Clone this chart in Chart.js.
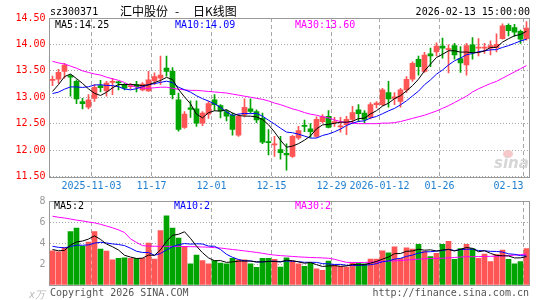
<!DOCTYPE html>
<html>
<head>
<meta charset="utf-8">
<script src="https://cdn.jsdelivr.net/npm/chart.js@4.4.1/dist/chart.umd.min.js"></script>
<style>
    body { margin: 0; background: #fff; }
    #wrap { position: relative; width: 545px; height: 300px; overflow: hidden; font-family: "DejaVu Sans Mono", monospace; font-size: 10px; }
    canvas { position: absolute; left: 0; top: 0; }
    .t { position: absolute; white-space: nowrap; line-height: 12px; }
    .cjk { font-family: "Noto Sans CJK SC"; font-size: 12px; line-height: 14px; top: 4px; }
    .eye { position: absolute; left: 503px; top: 150px; width: 10px; height: 8px; border-radius: 50%; background: #f6c8c8; }
</style>
</head>
<body>
<div id="wrap">
    <canvas id="klineChart" width="545" height="300"></canvas>
    <canvas id="volumeChart" width="545" height="300"></canvas>

    <div class="t" style="left:50px;top:6px;">sz300371</div>
    <div class="t cjk" style="left:120px;">汇中股份</div>
    <div class="t cjk" style="left:175px;">-</div>
    <div class="t cjk" style="left:193px;">日K线图</div>
    <div class="t" style="right:15px;top:6px;">2026-02-13 15:00:00</div>

    <div class="t" style="left:55px;top:19px;color:#000;">MA5:14.25</div>
    <div class="t" style="left:175px;top:19px;color:#0000ff;">MA10:14.09</div>
    <div class="t" style="left:295px;top:19px;color:#ff00ff;">MA30:13.60</div>

    <div class="t" style="left:54px;top:200px;color:#000;">MA5:2</div>
    <div class="t" style="left:174px;top:200px;color:#0000ff;">MA10:2</div>
    <div class="t" style="left:295px;top:200px;color:#ff00ff;">MA30:2</div>

    <div class="eye"></div>
    <div class="t" style="left:494px;top:155px;font-family:'DejaVu Sans';font-size:15px;line-height:17px;font-style:italic;font-weight:bold;color:#d6d6d6;">sina</div>
    <div class="t" style="left:29px;top:289px;color:#bbb;font-style:italic;">x万</div>
    <div class="t" style="left:50px;top:287px;color:#555;">Copyright 2026 SINA.COM</div>
    <div class="t" style="right:16px;top:287px;color:#555;">http://finance.sina.com.cn</div>
</div>

<script>
// trading days shown (2025-10-23 .. 2026-02-13)
const dates = [
    "10-23", "10-24", "10-27", "10-28", "10-29", "10-30", "10-31",
    "11-03", "11-04", "11-05", "11-06", "11-07", "11-10", "11-11", "11-12", "11-13", "11-14",
    "11-17", "11-18", "11-19", "11-20", "11-21", "11-24", "11-25", "11-26", "11-27", "11-28",
    "12-01", "12-02", "12-03", "12-04", "12-05", "12-08", "12-09", "12-10", "12-11", "12-12",
    "12-15", "12-16", "12-17", "12-18", "12-19", "12-22", "12-23", "12-24", "12-25", "12-26",
    "12-29", "12-30", "12-31", "01-05", "01-06", "01-07", "01-08", "01-09",
    "01-12", "01-13", "01-14", "01-15", "01-16", "01-19", "01-20", "01-21", "01-22", "01-23",
    "01-26", "01-27", "01-28", "01-29", "01-30", "02-02", "02-03", "02-04", "02-05", "02-06",
    "02-09", "02-10", "02-11", "02-12", "02-13"
];

const tickDates = ["11-03", "11-17", "12-01", "12-15", "12-29", "01-12", "01-26", "02-13"];
const tickLabels = ["2025-11-03", "11-17", "12-01", "12-15", "12-29", "2026-01-12", "01-26", "02-13"];

const opens = [
    13.32, 13.34, 13.49, 13.41, 13.30, 12.92, 12.81, 12.98, 13.22, 13.12,
    13.28, 13.29, 13.24, 13.20, 13.24, 13.14, 13.12, 13.31, 13.36, 13.55,
    13.49, 12.95, 12.43, 12.80, 12.78, 12.51, 12.68, 12.95, 12.84, 12.73,
    12.66, 12.28, 12.67, 12.78, 12.73, 12.60, 12.16, 12.10, 12.01, 11.94,
    11.88, 12.23, 12.47, 12.40, 12.26, 12.54, 12.64, 12.52, 12.44, 12.48,
    12.58, 12.76, 12.70, 12.62, 12.86, 12.86, 13.09, 12.98, 12.92, 13.14,
    13.34, 13.72, 13.49, 13.82, 13.86, 13.97, 13.90, 13.98, 13.73, 13.61,
    13.99, 13.93, 13.93, 13.93, 13.94, 14.11, 14.36, 14.32, 14.25, 14.11
];
const highs = [
    13.40, 13.53, 13.64, 13.43, 13.33, 12.98, 13.05, 13.24, 13.32, 13.30,
    13.36, 13.30, 13.26, 13.26, 13.30, 13.28, 13.49, 13.46, 13.78, 13.78,
    13.56, 13.08, 12.73, 12.93, 12.93, 12.73, 12.92, 13.05, 12.86, 12.76,
    12.70, 12.68, 12.97, 12.97, 12.76, 12.70, 12.39, 12.26, 12.26, 12.12,
    12.28, 12.45, 12.57, 12.50, 12.63, 12.67, 12.75, 12.62, 12.62, 12.64,
    12.83, 12.86, 12.75, 12.90, 12.92, 13.17, 13.30, 13.09, 13.17, 13.39,
    13.67, 13.78, 13.85, 13.93, 14.03, 14.12, 13.99, 14.02, 13.96, 14.02,
    14.13, 14.11, 14.02, 14.07, 14.20, 14.39, 14.39, 14.38, 14.27, 14.43
];
const lows = [
    13.22, 13.26, 13.36, 13.02, 12.88, 12.78, 12.78, 12.92, 13.10, 13.02,
    13.05, 13.14, 13.14, 13.16, 13.10, 13.12, 13.11, 13.24, 13.24, 13.40,
    12.97, 12.36, 12.41, 12.62, 12.45, 12.46, 12.60, 12.75, 12.61, 12.55,
    12.28, 12.26, 12.63, 12.70, 12.52, 12.12, 11.91, 11.88, 11.83, 11.62,
    11.86, 12.20, 12.35, 12.24, 12.24, 12.51, 12.42, 12.45, 12.34, 12.29,
    12.50, 12.54, 12.51, 12.59, 12.80, 12.84, 12.81, 12.86, 12.81, 13.09,
    13.30, 13.42, 13.47, 13.58, 13.78, 13.74, 13.46, 13.72, 13.47, 13.42,
    13.72, 13.78, 13.83, 13.80, 13.86, 14.10, 14.16, 14.15, 14.02, 14.08
];
const closes = [
    13.34, 13.47, 13.61, 13.38, 12.97, 12.88, 12.95, 13.19, 13.18, 13.27,
    13.30, 13.27, 13.17, 13.22, 13.20, 13.25, 13.33, 13.39, 13.42, 13.49,
    13.05, 12.39, 12.68, 12.77, 12.51, 12.70, 12.88, 12.86, 12.74, 12.64,
    12.39, 12.64, 12.81, 12.73, 12.57, 12.15, 12.14, 12.12, 11.95, 11.91,
    12.26, 12.37, 12.45, 12.35, 12.58, 12.63, 12.43, 12.54, 12.46, 12.58,
    12.71, 12.69, 12.58, 12.86, 12.89, 13.14, 12.97, 13.01, 13.14, 13.34,
    13.64, 13.58, 13.80, 13.78, 13.97, 13.93, 13.92, 13.80, 13.65, 13.98,
    13.86, 13.94, 13.95, 13.98, 14.00, 14.35, 14.26, 14.23, 14.10, 14.31
];
// closes of the nine sessions before the window (for MA5 / MA10)
const closesBefore = [13.20, 13.05, 12.95, 12.98, 12.97, 12.82, 12.86, 13.13, 13.40];
const ma30Price = [
    13.68, 13.65, 13.63, 13.59, 13.55, 13.50, 13.47, 13.44, 13.42, 13.38,
    13.35, 13.32, 13.28, 13.22, 13.19, 13.17, 13.17, 13.18, 13.19, 13.19,
    13.17, 13.15, 13.14, 13.13, 13.13, 13.12, 13.11, 13.10, 13.09, 13.08,
    13.06, 13.04, 13.02, 13.00, 12.98, 12.96, 12.93, 12.89, 12.86, 12.82,
    12.78, 12.75, 12.71, 12.68, 12.66, 12.63, 12.61, 12.57, 12.54, 12.52,
    12.51, 12.50, 12.50, 12.50, 12.50, 12.51, 12.51, 12.52, 12.54, 12.57,
    12.60, 12.63, 12.66, 12.70, 12.74, 12.79, 12.84, 12.90, 12.96, 13.02,
    13.10, 13.16, 13.21, 13.26, 13.30, 13.36, 13.42, 13.48, 13.54, 13.60
];

// volume, in 万手
const volumes = [
    3.26, 3.16, 3.57, 5.09, 5.43, 3.69, 4.09, 5.09, 3.41, 3.23,
    2.39, 2.55, 2.58, 2.55, 2.55, 2.55, 4.00, 2.48, 5.18, 6.58,
    5.43, 4.47, 3.69, 2.02, 2.86, 2.33, 2.02, 2.33, 2.08, 2.02,
    2.55, 2.39, 2.39, 2.02, 1.68, 2.55, 2.55, 2.45, 1.71, 2.58,
    2.27, 2.02, 1.77, 2.08, 1.55, 1.40, 2.27, 1.92, 1.77, 1.71,
    2.14, 2.08, 2.02, 2.48, 2.48, 3.26, 3.07, 3.63, 2.55, 3.54,
    3.41, 3.88, 3.20, 2.70, 3.01, 3.88, 4.16, 2.45, 3.48, 3.88,
    3.48, 2.55, 2.95, 2.22, 2.89, 3.32, 2.45, 2.02, 2.24, 3.48
];
const volumesBefore = [4.2, 4.0, 3.9, 4.1, 3.8, 3.76, 3.37, 2.64, 3.87];
const ma30Volume = [
    6.55, 6.45, 6.38, 6.28, 6.18, 6.10, 6.00, 5.92, 5.78, 5.62,
    5.45, 5.25, 5.00, 4.40, 4.05, 3.75, 3.70, 3.69, 3.69, 3.68,
    3.68, 3.67, 3.66, 3.65, 3.64, 3.62, 3.60, 3.56, 3.52, 3.45,
    3.38, 3.32, 3.25, 3.18, 3.10, 3.02, 2.92, 2.85, 2.80, 2.76,
    2.72, 2.68, 2.65, 2.62, 2.60, 2.58, 2.55, 2.45, 2.30, 2.16,
    2.14, 2.14, 2.15, 2.17, 2.20, 2.25, 2.28, 2.30, 2.33, 2.38,
    2.42, 2.46, 2.50, 2.52, 2.54, 2.55, 2.58, 2.62, 2.66, 2.70,
    2.70, 2.71, 2.72, 2.73, 2.74, 2.76, 2.80, 2.84, 2.89, 2.95
];

const RED = "#ff5555";
const GREEN = "#00a400";
const GRID = "#a8a8a8";

Chart.defaults.font.family = "'DejaVu Sans Mono', monospace";
Chart.defaults.font.size = 10;

function movingAverage(values, before, n) {
    const all = before.concat(values);
    return values.map((v, i) => {
        const end = i + before.length + 1;
        const win = all.slice(end - n, end);
        return win.reduce((a, b) => a + b, 0) / n;
    });
}

function maLine(data, color) {
    return {
        type: "line",
        data: data,
        borderColor: color,
        borderWidth: 1,
        pointRadius: 0,
        fill: false,
        tension: 0,
        order: 0
    };
}

// solid frame round the plot area
const framePlugin = {
    id: "frame",
    beforeDatasetsDraw(chart) {
        const a = chart.chartArea;
        const ctx = chart.ctx;
        ctx.save();
        ctx.strokeStyle = "#999";
        ctx.lineWidth = 1;
        ctx.strokeRect(a.left, Math.round(a.top) + 0.5, a.right - a.left, Math.round(a.bottom) - Math.round(a.top));
        ctx.restore();
    }
};

// date labels under the candles, centred on the dashed lines
const dateLabelPlugin = {
    id: "dateLabels",
    afterDraw(chart) {
        const x = chart.scales.x;
        const ctx = chart.ctx;
        const half = (x.getPixelForValue(1) - x.getPixelForValue(0)) / 2;
        ctx.save();
        ctx.font = "10px 'DejaVu Sans Mono'";
        ctx.fillStyle = "#1f7fd1";
        ctx.textBaseline = "middle";
        ctx.textAlign = "center";
        tickDates.forEach((d, k) => {
            const idx = dates.indexOf(d);
            const w = ctx.measureText(tickLabels[k]).width;
            let px = x.getPixelForValue(idx) - half;
            px = Math.min(px, chart.chartArea.right - 6 - w / 2);
            ctx.fillText(tickLabels[k], px, 186);
        });
        ctx.restore();
    }
};

function xAxis() {
    return {
        type: "category",
        offset: true,
        ticks: { display: false, autoSkip: false },
        border: { display: false, dash: [4, 3] },
        grid: {
            offset: true,
            drawTicks: false,
            color: ctx => tickDates.includes(dates[ctx.index]) ? GRID : "rgba(0,0,0,0)"
        },
        afterFit(scale) { scale.height = 0; }
    };
}

function createKlineChart() {
    const colors = opens.map((o, i) => closes[i] >= o ? RED : GREEN);
    const wicks = lows.map((l, i) => [l, highs[i]]);
    const bodies = opens.map((o, i) => [Math.min(o, closes[i]), Math.max(o, closes[i])]);

    const ctx = document.getElementById("klineChart").getContext("2d");
    new Chart(ctx, {
        type: "bar",
        data: {
            labels: dates,
            datasets: [
                maLine(movingAverage(closes, closesBefore, 5), "#000000"),
                maLine(movingAverage(closes, closesBefore, 10), "#0000ff"),
                maLine(ma30Price, "#ff00ff"),
                {
                    data: bodies,
                    backgroundColor: colors,
                    barThickness: 5,
                    minBarLength: 1,
                    grouped: false,
                    order: 1
                },
                {
                    data: wicks,
                    backgroundColor: colors,
                    barThickness: 1,
                    grouped: false,
                    order: 2
                }
            ]
        },
        options: {
            responsive: false,
            animation: false,
            layout: { padding: { left: 0, right: 15.5, top: 18, bottom: 123.5 } },
            plugins: { legend: { display: false }, tooltip: { enabled: false } },
            scales: {
                x: xAxis(),
                y: {
                    min: 11.5,
                    max: 14.5,
                    ticks: {
                        stepSize: 0.5,
                        padding: 4,
                        color: "#ff0000",
                        callback: v => v.toFixed(2)
                    },
                    border: { display: false, dash: [1, 2] },
                    grid: { drawTicks: false, color: GRID },
                    afterFit(scale) { scale.width = 49.5; }
                }
            }
        },
        plugins: [framePlugin, dateLabelPlugin]
    });
}

function createVolumeChart() {
    const colors = opens.map((o, i) => closes[i] >= o ? RED : GREEN);

    const ctx = document.getElementById("volumeChart").getContext("2d");
    new Chart(ctx, {
        type: "bar",
        data: {
            labels: dates,
            datasets: [
                maLine(movingAverage(volumes, volumesBefore, 5), "#000000"),
                maLine(movingAverage(volumes, volumesBefore, 10), "#0000ff"),
                maLine(ma30Volume, "#ff00ff"),
                {
                    data: volumes,
                    backgroundColor: colors,
                    barThickness: 5,
                    grouped: false,
                    order: 1
                }
            ]
        },
        options: {
            responsive: false,
            animation: false,
            layout: { padding: { left: 0, right: 15.5, top: 201, bottom: 15 } },
            plugins: { legend: { display: false }, tooltip: { enabled: false } },
            scales: {
                x: xAxis(),
                y: {
                    min: 0,
                    max: 8,
                    ticks: {
                        stepSize: 2,
                        padding: 4,
                        color: "#999",
                        callback: v => v === 0 ? "" : v
                    },
                    border: { display: false, dash: [1, 2] },
                    grid: { drawTicks: false, color: GRID },
                    afterFit(scale) { scale.width = 49.5; }
                }
            }
        },
        plugins: [framePlugin]
    });
}

createKlineChart();
createVolumeChart();
</script>
</body>
</html>
